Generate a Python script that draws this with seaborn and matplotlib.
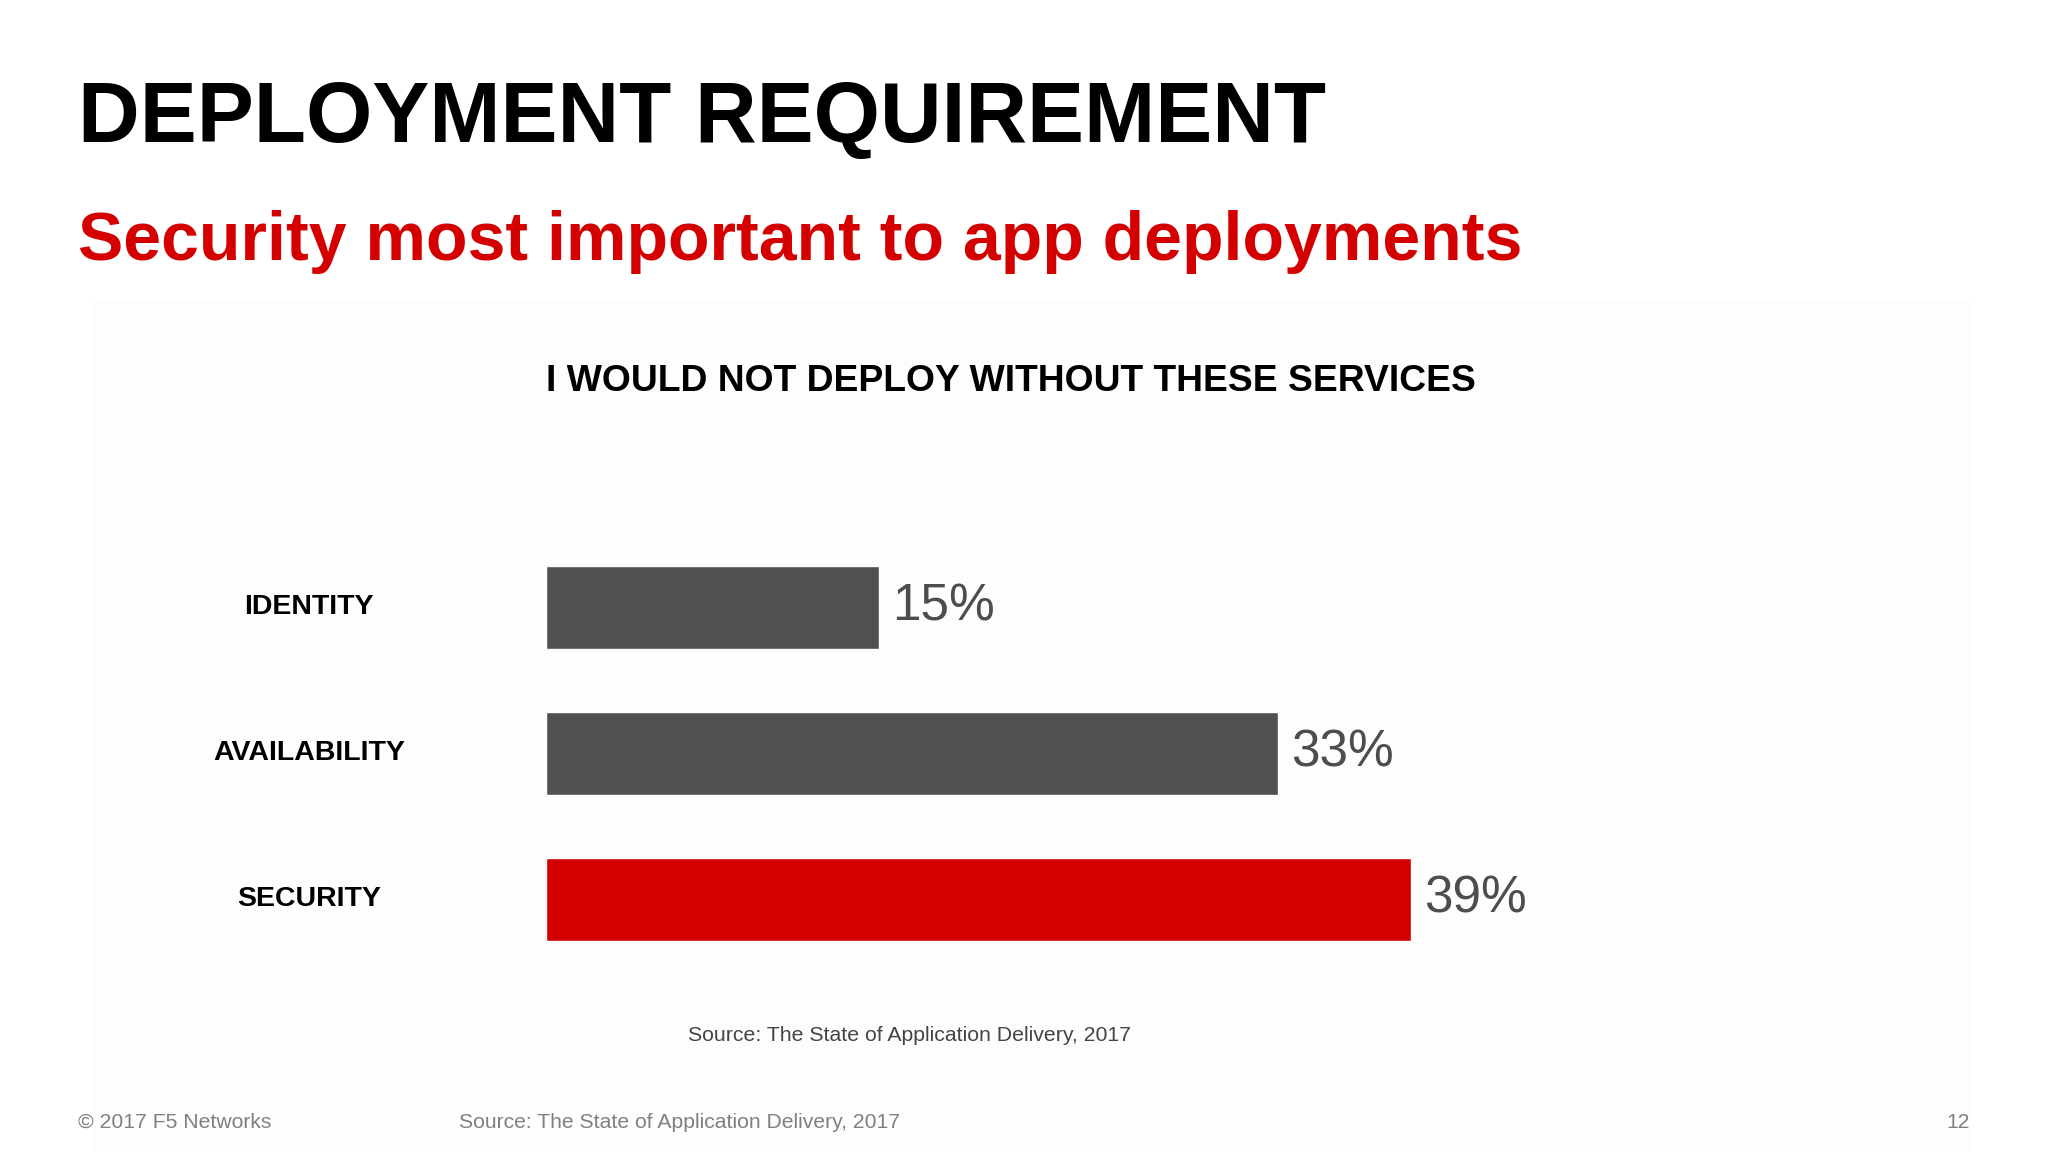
import matplotlib.pyplot as plt
import seaborn as sns
import pandas as pd

# ── data ─────────────────────────────────────────────
services = ["IDENTITY", "AVAILABILITY", "SECURITY"]
shares = [15, 33, 39]
bar_colors = ["#505052", "#505052", "#d40000"]

df = pd.DataFrame({"service": services, "share": shares})

sns.set_style("white")
plt.rcParams["font.family"] = ["Liberation Sans", "DejaVu Sans"]

fig = plt.figure(figsize=(20.48, 11.52), dpi=100)
fig.patch.set_facecolor("white")

# faint slide panel
fig.patches.append(plt.Rectangle((0.045, 0.0), 0.918, 0.74, transform=fig.transFigure,
                                 color="#fdfdfd", zorder=-1))

fig.text(0.038, 0.896, "DEPLOYMENT REQUIREMENT", fontsize=61.5, fontweight="bold",
         color="black", va="center")
fig.text(0.038, 0.79, "Security most important to app deployments", fontsize=49,
         fontweight="bold", color="#d40000", va="center")
fig.text(0.2666, 0.669, "I WOULD NOT DEPLOY WITHOUT THESE SERVICES", fontsize=26.8,
         fontweight="bold", color="black", va="center")

ax = fig.add_axes([0.2666, 0.156, 0.65, 0.38])
sns.barplot(data=df, x="share", y="service", order=services, palette=bar_colors,
            hue="service", legend=False, width=0.565, saturation=1, ax=ax)
ax.set_xlim(0, 60)
ax.set_ylim(2.5, -0.5)
ax.axis("off")

for i, (name, val) in enumerate(zip(services, shares)):
    ax.text(val + 0.6, i, f"{val}%", fontsize=37, color="#4d4d4f", va="center", ha="left")
    fig.text(0.151, ax.transData.transform((0, i))[1] / fig.bbox.height, name,
             fontsize=20.5, fontweight="bold", color="black", ha="center", va="center")

fig.text(0.444, 0.101, "Source: The State of Application Delivery, 2017", fontsize=15.3,
         color="#444444", ha="center", va="center")

fig.text(0.038, 0.026, "© 2017 F5 Networks", fontsize=15.2, color="#808080", va="center")
fig.text(0.224, 0.026, "Source: The State of Application Delivery, 2017", fontsize=15.2,
         color="#808080", va="center")
fig.text(0.962, 0.026, "12", fontsize=15.2, color="#808080", va="center", ha="right")

fig.savefig("out.png", dpi=100)
